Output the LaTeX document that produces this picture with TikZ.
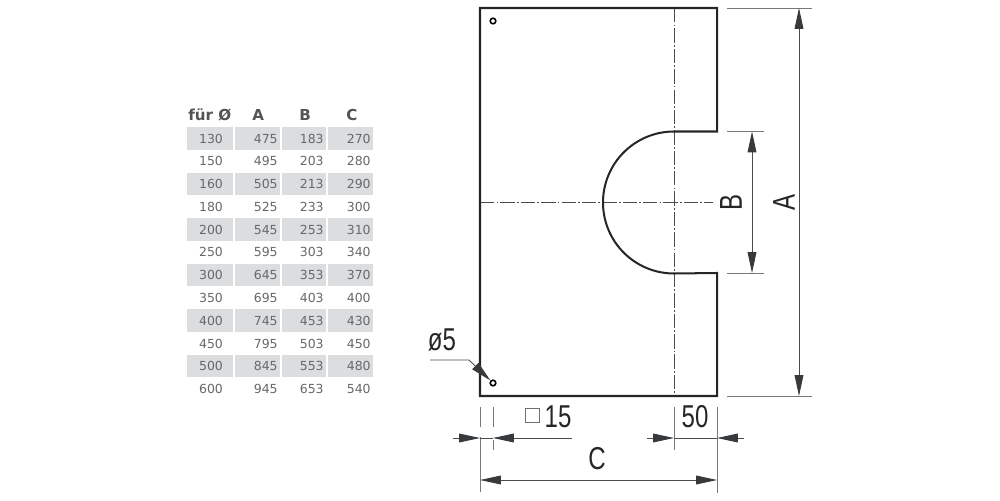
\documentclass[tikz,border=0pt]{standalone}
\usepackage{graphicx}
\usepackage{fontspec}
\setmainfont{DejaVu Sans}
\newfontfamily\dimfont{Liberation Sans}
\usetikzlibrary{arrows.meta}
\definecolor{cellgrey}{HTML}{DCDDDF}
\definecolor{numgrey}{HTML}{66686A}
\definecolor{headgrey}{HTML}{535456}
\definecolor{dimgrey}{HTML}{4A4D50}
\definecolor{tipgrey}{HTML}{373A3D}
\newcommand{\dimtext}[1]{\scalebox{.76}[1]{\dimfont\fontsize{18}{18}\selectfont #1}}
\tikzset{
    outline/.style={line width=1.15pt, draw=black!85},
    centerline/.style={line width=.5pt, draw=dimgrey, dash pattern=on 8.2pt off 1.2pt on 1pt off 1.2pt},
    dimline/.style={line width=.5pt, draw=dimgrey},
    extline/.style={line width=.5pt, draw=dimgrey!75},
    dimarrow/.style={line width=.5pt, draw=dimgrey, -{Triangle[length=11.9pt, width=5pt, color=tipgrey]}},
    twoarrows/.style={line width=.5pt, draw=dimgrey, {Triangle[length=11.9pt, width=5pt, color=tipgrey]}-{Triangle[length=11.9pt, width=5pt, color=tipgrey]}},
    hole/.style={circle, draw=black, line width=.9pt, fill=white, inner sep=0pt, minimum size=3.2pt},
    dimlabel/.style={inner sep=0pt, text=black!85},
    cell/.style={inner sep=0pt, text=numgrey, font=\fontsize{7.1}{8}\selectfont},
    headcell/.style={inner sep=0pt, text=headgrey, font=\fontsize{8.6}{9}\selectfont\bfseries},
}
\begin{document}
\begin{tikzpicture}[x=.02cm, y=-.02cm]
    \useasboundingbox (0, 0) rectangle (1000, 500);
    % table
    \node[headcell, anchor=base west] (headd) at (188, 120) {für Ø};
    \node[headcell, anchor=base west] (heada) at (252, 120) {A};
    \node[headcell, anchor=base west] (headb) at (299, 120) {B};
    \node[headcell, anchor=base west] (headc) at (346, 120) {C};
    \foreach \d/\a/\b/\c [count=\i] in {130/475/183/270, 150/495/203/280, 160/505/213/290, 180/525/233/300, 200/545/253/310, 250/595/303/340, 300/645/353/370, 350/695/403/400, 400/745/453/430, 450/795/503/450, 500/845/553/480, 600/945/653/540} {
        \pgfmathsetmacro{\ypos}{138.5 + (\i - 1) * 22.77}
        \ifodd\i
            \fill[cellgrey] (187, \ypos - 11.2) rectangle (233, \ypos + 11.2);
            \fill[cellgrey] (235, \ypos - 11.2) rectangle (280, \ypos + 11.2);
            \fill[cellgrey] (282, \ypos - 11.2) rectangle (326, \ypos + 11.2);
            \fill[cellgrey] (328, \ypos - 11.2) rectangle (373, \ypos + 11.2);
        \fi
        \node[cell, anchor=base] (d\i) at (211, \ypos + 4.6) {\d};
        \node[cell, anchor=base east] (a\i) at (278, \ypos + 4.6) {\a};
        \node[cell, anchor=base east] (b\i) at (324, \ypos + 4.6) {\b};
        \node[cell, anchor=base east] (c\i) at (371, \ypos + 4.6) {\c};
    }
    % plate
    \draw[centerline] (480, 202) -- (713, 202);
    \draw[centerline] (674, 8) -- (674, 396);
    \draw[outline] (480, 8) -- (717, 8) -- (717, 131.5) -- (674, 131.5)
        arc[start angle=-90, end angle=-270, radius=71]
        -- (717, 273) -- (717, 396) -- (480, 396) -- cycle;
    \node[hole] (holetop) at (493, 21) {};
    \node[hole] (holebottom) at (493, 383) {};
    % dimension A
    \coordinate (atop) at (799, 8);
    \coordinate (abottom) at (799, 396);
    \draw[extline] (727, 8) -- (812, 8);
    \draw[extline] (727, 396) -- (812, 396);
    \draw[twoarrows] (atop) -- (abottom);
    \node[dimlabel, rotate=90] (alabel) at (784, 202) {\dimtext{A}};
    % dimension B
    \coordinate (btop) at (752, 131.5);
    \coordinate (bbottom) at (752, 273);
    \draw[extline] (727, 131.5) -- (764, 131.5);
    \draw[extline] (727, 273) -- (764, 273);
    \draw[twoarrows] (btop) -- (bbottom);
    \node[dimlabel, rotate=90] (blabel) at (731, 202) {\dimtext{B}};
    % dimension C
    \coordinate (cleft) at (480, 480);
    \coordinate (cright) at (717, 480);
    \draw[extline] (480, 407) -- (480, 427);
    \draw[extline] (480, 437) -- (480, 492);
    \draw[extline] (717, 407) -- (717, 493);
    \draw[twoarrows] (cleft) -- (cright);
    \node[dimlabel] (clabel) at (597, 459) {\dimtext{C}};
    % dimension 15
    \coordinate (fifteenfree) at (453, 438);
    \coordinate (fifteenleft) at (480, 438);
    \coordinate (fifteenright) at (493, 438);
    \coordinate (fifteenend) at (572, 438);
    \draw[extline] (493, 407) -- (493, 427);
    \draw[extline] (493, 440) -- (493, 450);
    \draw[dimline] (fifteenleft) -- (fifteenright);
    \draw[dimarrow] (fifteenfree) -- (fifteenleft);
    \draw[dimarrow] (fifteenend) -- (fifteenright);
    \node[draw=dimgrey!80, line width=.4pt, inner sep=0pt, minimum size=8pt] (square) at (532, 415.5) {};
    \node[dimlabel] (fifteen) at (558, 417) {\dimtext{15}};
    % dimension 50
    \coordinate (fiftyfree) at (647, 438);
    \coordinate (fiftyleft) at (674, 438);
    \coordinate (fiftyright) at (717, 438);
    \coordinate (fiftyend) at (744, 438);
    \draw[extline] (674, 407) -- (674, 450);
    \draw[dimline] (fiftyleft) -- (fiftyright);
    \draw[dimarrow] (fiftyfree) -- (fiftyleft);
    \draw[dimarrow] (fiftyend) -- (fiftyright);
    \node[dimlabel] (fifty) at (695, 417) {\dimtext{50}};
    % hole leader
    \node[dimlabel] (holelabel) at (442, 340) {\dimtext{ø5}};
    \coordinate (leaderstart) at (430, 360);
    \coordinate (leaderbend) at (469, 360);
    \draw[dimarrow] (leaderstart) -- (leaderbend) -- (holebottom);
\end{tikzpicture}
\end{document}
